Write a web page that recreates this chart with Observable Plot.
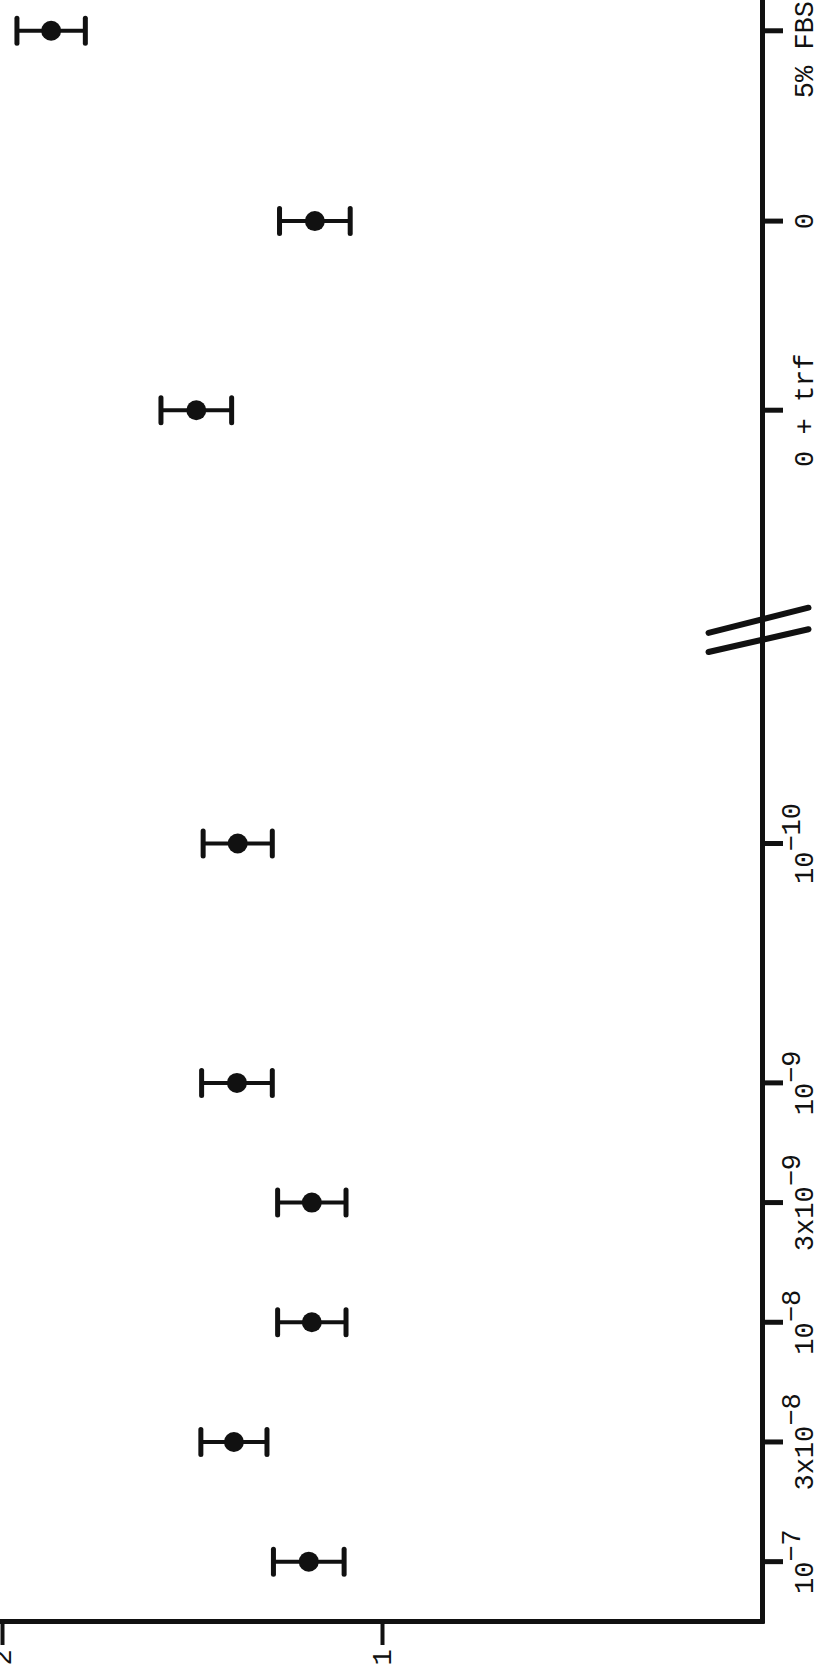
<!DOCTYPE html>
<html><head><meta charset="utf-8">
<script src="https://cdn.jsdelivr.net/npm/d3@7"></script>
<script src="https://cdn.jsdelivr.net/npm/@observablehq/plot@0.6"></script>
<style>
html,body{margin:0;padding:0;background:#fff;}
#chart{width:833px;height:1677px;overflow:hidden;}
svg{display:block;}
</style></head><body><div id="chart"></div>
<script>
// Categories along the (rotated) category axis, bottom to top
const categories = ["10^−7", "3x10^−8", "10^−8", "3x10^−9", "10^−9", "10^−10", "0 + trf", "0", "5% FBS"];
// position of each category along the axis (half-decade steps; controls placed after the break)
const axisSlot = [6, 5, 4, 3, 2, 0, -3.62, -5.2, -6.79];
// measured values and error half-widths
const means = [1.194, 1.391, 1.186, 1.186, 1.383, 1.381, 1.49, 1.178, 1.872];
const errors = [0.093, 0.087, 0.090, 0.090, 0.093, 0.091, 0.093, 0.093, 0.090];
// value axis ticks
const valueTicks = [1, 2];
// axis break (two slanted strokes) in data units
const breakLines = [
  {x1: 0.142, x2: -0.121, y1: -1.76, y2: -1.97},
  {x1: 0.142, x2: -0.121, y1: -1.60, y2: -1.79}
];

const data = categories.map((c, i) => ({c, slot: axisSlot[i], v: means[i], e: errors[i]}));
const yDomain = [-7.043, 6.5];
const ink = "#111";

const vbar = {draw(ctx, size) { const h = Math.sqrt(size / Math.PI); ctx.moveTo(0, -h); ctx.lineTo(0, h); }};

const svg = Plot.plot({
  width: 833, height: 1677,
  marginLeft: 0, marginRight: 71, marginTop: 0, marginBottom: 56,
  style: {background: "#fff", fontFamily: "'Liberation Mono', 'DejaVu Sans Mono', monospace", fontSize: "27px", color: ink},
  x: {domain: [0, 2], range: [762, 2]},
  y: {domain: yDomain, range: [0, 1621]},
  marks: [
    Plot.ruleX([0], {stroke: ink, strokeWidth: 5, strokeLinecap: "square"}),
    Plot.ruleY([yDomain[1]], {stroke: ink, strokeWidth: 5, strokeLinecap: "square"}),
    Plot.axisY(axisSlot, {anchor: "right", tickSize: 20, strokeWidth: 5, stroke: ink, tickFormat: () => "", label: null}),
    Plot.axisX(valueTicks, {anchor: "bottom", tickSize: 24, strokeWidth: 4, stroke: ink, tickFormat: () => "", label: null}),
    Plot.link(breakLines, {x1: "x1", x2: "x2", y1: "y1", y2: "y2", stroke: ink, strokeWidth: 6, strokeLinecap: "round"}),
    Plot.link(data, {x1: d => d.v - d.e, x2: d => d.v + d.e, y1: "slot", y2: "slot", stroke: ink, strokeWidth: 4}),
    Plot.dot(data, {x: d => d.v - d.e, y: "slot", symbol: vbar, r: 12.5, stroke: ink, strokeWidth: 5, strokeLinecap: "round", fill: "none"}),
    Plot.dot(data, {x: d => d.v + d.e, y: "slot", symbol: vbar, r: 12.5, stroke: ink, strokeWidth: 5, strokeLinecap: "round", fill: "none"}),
    Plot.dot(data, {x: "v", y: "slot", r: 10, fill: ink, stroke: "none"}),
    Plot.text(data, {y: "slot", text: "c", frameAnchor: "right", dx: 42, rotate: -90, textAnchor: "middle", lineAnchor: "middle", fill: ink}),
    Plot.text(valueTicks, {x: d => d, text: d => String(d), frameAnchor: "bottom", dy: 36, rotate: -90, textAnchor: "middle", lineAnchor: "middle", fill: ink})
  ]
});

// superscript exponents
const ns = "http://www.w3.org/2000/svg";
svg.querySelectorAll("text").forEach(t => {
  const s = t.textContent;
  const i = s.indexOf("^");
  if (i < 0) return;
  t.textContent = "";
  const a = document.createElementNS(ns, "tspan"); a.textContent = s.slice(0, i);
  const b = document.createElementNS(ns, "tspan"); b.textContent = s.slice(i + 1); b.setAttribute("dy", "-0.5em");
  t.append(a, b);
});
document.getElementById("chart").append(svg);

// keep labels inside the top edge
const top0 = svg.getBoundingClientRect().top;
svg.querySelectorAll("text").forEach(t => {
  const r = t.getBoundingClientRect();
  const over = top0 + 1 - r.top;
  if (over > 0) {
    const tr = t.getAttribute("transform") || "";
    t.setAttribute("transform", `translate(0,${over.toFixed(1)}) ${tr}`);
  }
});
</script></body></html>
